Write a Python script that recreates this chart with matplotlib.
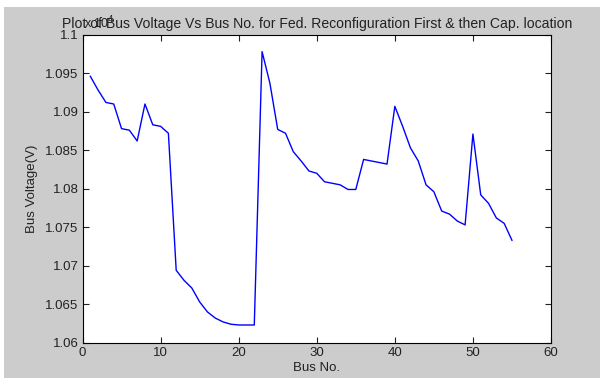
import matplotlib
matplotlib.use("Agg")
import matplotlib.pyplot as plt
from matplotlib.patches import Rectangle
from matplotlib.ticker import FuncFormatter, MultipleLocator

plt.rcParams['font.family'] = ['Liberation Sans', 'DejaVu Sans']

bus_no = list(range(1, 56))
voltage = [1.0946, 1.0928, 1.0912, 1.0910, 1.0878, 1.0876, 1.0862, 1.0910, 1.0883, 1.0881,
           1.0872, 1.0694, 1.0681, 1.0671, 1.0653, 1.0640, 1.0632, 1.0627, 1.0624, 1.0623,
           1.0623, 1.0623, 1.0978, 1.0937, 1.0877, 1.0872, 1.0848, 1.0836, 1.0823, 1.0820,
           1.0809, 1.0807, 1.0805, 1.0799, 1.0799, 1.0838, 1.0836, 1.0834, 1.0832, 1.0907,
           1.0881, 1.0853, 1.0836, 1.0805, 1.0796, 1.0771, 1.0767, 1.0758, 1.0753, 1.0871,
           1.0792, 1.0781, 1.0762, 1.0755, 1.0733]

title = "Plot of Bus Voltage Vs Bus No. for Fed. Reconfiguration First & then Cap. location"
xlabel = "Bus No."
ylabel = "Bus Voltage(V)"

W, H = 605, 378
fig = plt.figure(figsize=(W / 100, H / 100), dpi=100, facecolor='white')
fig.patches.append(Rectangle((4 / W, 0), (600 - 4) / W, (H - 7) / H,
                             transform=fig.transFigure, facecolor='#cccccc',
                             edgecolor='none', zorder=-10))

left, right, top, bottom = 82.5, 551, 34.7, 342.7
ax = fig.add_axes([left / W, (H - bottom) / H, (right - left) / W, (bottom - top) / H])
ax.set_facecolor('white')
ax.plot(bus_no, voltage, color='#0000ff', linewidth=1.0)

ax.set_xlim(0, 60)
ax.set_ylim(1.06, 1.1)
ax.xaxis.set_major_locator(MultipleLocator(10))
ax.yaxis.set_major_locator(MultipleLocator(0.005))
ax.yaxis.set_major_formatter(FuncFormatter(lambda v, p: f"{v:.4g}"))
ax.tick_params(direction='in', length=4, width=0.8, top=True, right=True,
               labelsize=9.5, colors='#222222', pad=3)
for s in ax.spines.values():
    s.set_linewidth(0.8)
    s.set_color('black')

ax.set_title(title, fontsize=10.1, pad=5, color='#222222')
ax.set_xlabel(xlabel, fontsize=9.5, labelpad=2, color='#222222')
ax.set_ylabel(ylabel, fontsize=9.5, labelpad=5, color='#222222')

fig.text(84 / W, 1 - 31 / H, r"x 10$^4$", fontsize=9, ha='left', va='bottom', color='#222222')

fig.savefig("out.png", dpi=100, facecolor=fig.get_facecolor())
